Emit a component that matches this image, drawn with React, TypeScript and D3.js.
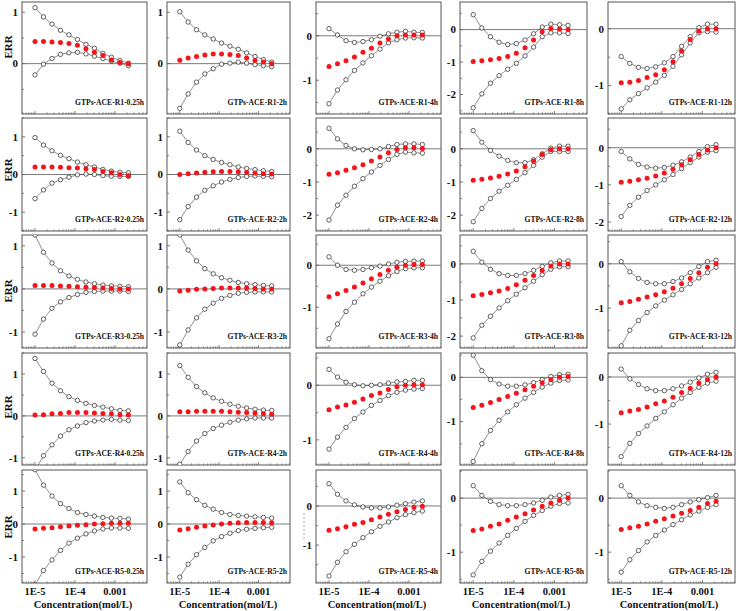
import React from 'react';
import * as d3 from 'd3';

// Concentrations (mol/L)
const conc = [1.0e-5, 1.63e-5, 2.66e-5, 4.33e-5, 7.06e-5, 1.15e-4, 1.88e-4, 3.06e-4, 4.99e-4, 8.14e-4, 1.33e-3, 2.16e-3];
const xTickVals = [1e-5, 1e-4, 1e-3];
const xTickLabels = ['1E-5', '1E-4', '0.001'];
const rowNames = ['R1', 'R2', 'R3', 'R4', 'R5'];
const timeNames = ['0.25h', '2h', '4h', '8h', '12h'];

// ---- R1 ----
const up_R1_025 = [1.09, 0.91, 0.77, 0.65, 0.56, 0.47, 0.375, 0.30, 0.20, 0.125, 0.06, 0.01];
const mid_R1_025 = [0.43, 0.43, 0.42, 0.41, 0.39, 0.36, 0.29, 0.22, 0.16, 0.07, 0.02, 0.0];
const lo_R1_025 = [-0.22, -0.01, 0.10, 0.18, 0.21, 0.22, 0.19, 0.145, 0.10, 0.05, 0.01, -0.04];
const up_R1_2 = [1.01, 0.81, 0.66, 0.56, 0.48, 0.40, 0.34, 0.28, 0.21, 0.14, 0.08, 0.03];
const mid_R1_2 = [0.065, 0.11, 0.14, 0.17, 0.19, 0.19, 0.18, 0.16, 0.11, 0.06, 0.03, 0.0];
const lo_R1_2 = [-0.87, -0.59, -0.36, -0.20, -0.10, -0.01, 0.01, 0.03, 0.01, -0.02, -0.04, -0.06];
const up_R1_4 = [0.16, 0.02, -0.11, -0.15, -0.13, -0.09, -0.01, 0.045, 0.08, 0.10, 0.08, 0.075];
const mid_R1_4 = [-0.69, -0.63, -0.56, -0.48, -0.37, -0.28, -0.16, -0.07, 0.0, 0.02, 0.02, 0.015];
const lo_R1_4 = [-1.53, -1.22, -0.99, -0.78, -0.61, -0.45, -0.30, -0.16, -0.09, -0.05, -0.045, -0.05];
const up_R1_8 = [0.46, 0.05, -0.22, -0.39, -0.46, -0.43, -0.32, -0.13, 0.08, 0.17, 0.15, 0.13];
const mid_R1_8 = [-0.98, -0.96, -0.93, -0.89, -0.83, -0.73, -0.56, -0.32, -0.07, 0.03, 0.02, 0.0];
const lo_R1_8 = [-2.41, -1.98, -1.65, -1.42, -1.22, -1.04, -0.81, -0.54, -0.22, -0.10, -0.10, -0.12];
const up_R1_12 = [-0.49, -0.61, -0.68, -0.70, -0.67, -0.60, -0.49, -0.31, -0.14, 0.02, 0.08, 0.08];
const mid_R1_12 = [-0.95, -0.94, -0.91, -0.86, -0.81, -0.72, -0.58, -0.39, -0.19, -0.04, 0.0, 0.0];
const lo_R1_12 = [-1.41, -1.25, -1.14, -1.04, -0.94, -0.82, -0.66, -0.46, -0.25, -0.07, -0.05, -0.06];

// ---- R2 ----
const up_R2_025 = [0.98, 0.78, 0.63, 0.51, 0.42, 0.33, 0.26, 0.20, 0.135, 0.09, 0.06, 0.045];
const mid_R2_025 = [0.20, 0.20, 0.20, 0.19, 0.18, 0.17, 0.15, 0.13, 0.08, 0.045, 0.0, -0.03];
const lo_R2_025 = [-0.64, -0.41, -0.23, -0.14, -0.07, -0.01, 0.01, 0.0, -0.03, -0.045, -0.05, -0.05];
const up_R2_2 = [1.15, 0.85, 0.65, 0.5, 0.4, 0.32, 0.26, 0.2, 0.16, 0.13, 0.1, 0.08];
const mid_R2_2 = [0.0, 0.02, 0.04, 0.06, 0.07, 0.08, 0.08, 0.07, 0.06, 0.04, 0.02, 0.01];
const lo_R2_2 = [-1.2, -0.85, -0.6, -0.42, -0.3, -0.2, -0.13, -0.08, -0.05, -0.04, -0.05, -0.06];
const up_R2_4 = [0.62, 0.30, 0.10, 0.0, -0.03, -0.02, 0.0, 0.07, 0.13, 0.15, 0.15, 0.13];
const mid_R2_4 = [-0.77, -0.72, -0.65, -0.57, -0.48, -0.37, -0.25, -0.12, -0.02, 0.03, 0.03, 0.01];
const lo_R2_4 = [-2.15, -1.70, -1.40, -1.13, -0.90, -0.70, -0.50, -0.32, -0.17, -0.10, -0.12, -0.13];
const up_R2_8 = [0.55, 0.2, -0.05, -0.22, -0.35, -0.42, -0.42, -0.33, -0.15, 0.02, 0.08, 0.08];
const mid_R2_8 = [-0.95, -0.92, -0.88, -0.83, -0.76, -0.67, -0.54, -0.37, -0.17, -0.03, 0.0, 0.0];
const lo_R2_8 = [-2.2, -1.8, -1.5, -1.28, -1.1, -0.92, -0.72, -0.5, -0.25, -0.08, -0.08, -0.08];
const up_R2_12 = [-0.1, -0.3, -0.45, -0.52, -0.55, -0.53, -0.47, -0.38, -0.25, -0.1, 0.03, 0.08];
const mid_R2_12 = [-0.93, -0.9, -0.86, -0.82, -0.76, -0.68, -0.58, -0.46, -0.32, -0.18, -0.06, 0.0];
const lo_R2_12 = [-1.85, -1.55, -1.33, -1.15, -1.0, -0.86, -0.72, -0.56, -0.4, -0.25, -0.12, -0.08];

// ---- R3 ----
const up_R3_025 = [1.25, 0.85, 0.6, 0.42, 0.3, 0.22, 0.16, 0.12, 0.09, 0.07, 0.06, 0.05];
const mid_R3_025 = [0.08, 0.08, 0.08, 0.07, 0.06, 0.05, 0.04, 0.03, 0.02, 0.01, 0.0, 0.0];
const lo_R3_025 = [-1.05, -0.7, -0.45, -0.3, -0.2, -0.13, -0.08, -0.06, -0.05, -0.05, -0.05, -0.06];
const up_R3_2 = [1.25, 0.9, 0.65, 0.47, 0.35, 0.26, 0.2, 0.15, 0.12, 0.1, 0.08, 0.07];
const mid_R3_2 = [-0.05, -0.03, -0.01, 0.0, 0.01, 0.02, 0.02, 0.02, 0.02, 0.01, 0.0, 0.0];
const lo_R3_2 = [-1.3, -0.95, -0.67, -0.47, -0.33, -0.22, -0.15, -0.1, -0.08, -0.07, -0.07, -0.07];
const up_R3_4 = [0.2, 0.0, -0.1, -0.12, -0.1, -0.06, -0.02, 0.03, 0.07, 0.09, 0.1, 0.1];
const mid_R3_4 = [-0.75, -0.68, -0.6, -0.52, -0.42, -0.32, -0.22, -0.12, -0.05, 0.0, 0.02, 0.02];
const lo_R3_4 = [-1.75, -1.4, -1.1, -0.88, -0.68, -0.52, -0.38, -0.25, -0.15, -0.08, -0.06, -0.06];
const up_R3_8 = [0.35, 0.05, -0.15, -0.27, -0.32, -0.32, -0.27, -0.18, -0.07, 0.03, 0.08, 0.08];
const mid_R3_8 = [-0.88, -0.85, -0.8, -0.75, -0.68, -0.58, -0.45, -0.32, -0.18, -0.06, 0.0, 0.0];
const lo_R3_8 = [-2.05, -1.7, -1.45, -1.22, -1.02, -0.84, -0.66, -0.48, -0.3, -0.15, -0.08, -0.08];
const up_R3_12 = [0.05, -0.18, -0.33, -0.42, -0.45, -0.45, -0.4, -0.32, -0.2, -0.06, 0.05, 0.08];
const mid_R3_12 = [-0.88, -0.85, -0.8, -0.75, -0.7, -0.63, -0.55, -0.45, -0.33, -0.2, -0.08, 0.0];
const lo_R3_12 = [-1.85, -1.5, -1.28, -1.1, -0.95, -0.82, -0.7, -0.58, -0.45, -0.32, -0.2, -0.08];

// ---- R4 ----
const up_R4_025 = [1.37, 1.06, 0.78, 0.60, 0.46, 0.37, 0.30, 0.25, 0.21, 0.17, 0.13, 0.12];
const mid_R4_025 = [0.02, 0.03, 0.05, 0.06, 0.08, 0.08, 0.08, 0.07, 0.06, 0.05, 0.03, 0.02];
const lo_R4_025 = [-1.3, -0.95, -0.69, -0.48, -0.33, -0.24, -0.16, -0.12, -0.10, -0.08, -0.10, -0.11];
const up_R4_2 = [1.2, 0.92, 0.7, 0.55, 0.43, 0.35, 0.28, 0.23, 0.19, 0.16, 0.14, 0.13];
const mid_R4_2 = [0.1, 0.1, 0.11, 0.11, 0.11, 0.11, 0.1, 0.09, 0.08, 0.07, 0.05, 0.04];
const lo_R4_2 = [-1.15, -0.85, -0.6, -0.42, -0.3, -0.22, -0.15, -0.1, -0.07, -0.05, -0.05, -0.05];
const up_R4_4 = [0.29, 0.15, 0.055, 0.01, -0.01, 0.0, 0.01, 0.04, 0.06, 0.07, 0.09, 0.09];
const mid_R4_4 = [-0.45, -0.40, -0.36, -0.31, -0.25, -0.19, -0.14, -0.08, -0.03, 0.0, 0.01, 0.01];
const lo_R4_4 = [-1.17, -0.95, -0.77, -0.61, -0.49, -0.37, -0.28, -0.19, -0.13, -0.09, -0.07, -0.06];
const up_R4_8 = [0.5, 0.15, -0.05, -0.15, -0.2, -0.2, -0.17, -0.12, -0.05, 0.02, 0.06, 0.07];
const mid_R4_8 = [-0.68, -0.63, -0.57, -0.5, -0.43, -0.36, -0.28, -0.2, -0.12, -0.05, 0.0, 0.02];
const lo_R4_8 = [-1.9, -1.5, -1.2, -0.97, -0.78, -0.62, -0.47, -0.34, -0.22, -0.13, -0.07, -0.06];
const up_R4_12 = [0.17, -0.04, -0.16, -0.25, -0.29, -0.29, -0.25, -0.19, -0.11, -0.02, 0.06, 0.10];
const mid_R4_12 = [-0.76, -0.72, -0.69, -0.64, -0.57, -0.51, -0.43, -0.33, -0.24, -0.13, -0.06, 0.0];
const lo_R4_12 = [-1.69, -1.41, -1.20, -1.04, -0.88, -0.74, -0.59, -0.45, -0.33, -0.22, -0.13, -0.09];

// ---- R5 ----
const up_R5_025 = [1.65, 1.18, 0.85, 0.62, 0.47, 0.35, 0.29, 0.24, 0.20, 0.18, 0.17, 0.15];
const mid_R5_025 = [-0.15, -0.13, -0.11, -0.08, -0.06, -0.04, -0.02, 0.0, 0.01, 0.02, 0.02, 0.02];
const lo_R5_025 = [-1.85, -1.41, -1.09, -0.80, -0.58, -0.43, -0.30, -0.21, -0.15, -0.12, -0.12, -0.13];
const up_R5_2 = [1.28, 0.95, 0.74, 0.57, 0.45, 0.35, 0.29, 0.26, 0.24, 0.22, 0.20, 0.18];
const mid_R5_2 = [-0.18, -0.14, -0.10, -0.06, -0.03, 0.0, 0.02, 0.04, 0.05, 0.05, 0.05, 0.04];
const lo_R5_2 = [-1.61, -1.22, -0.93, -0.71, -0.51, -0.38, -0.28, -0.20, -0.16, -0.13, -0.11, -0.10];
const up_R5_4 = [0.57, 0.30, 0.13, 0.03, -0.025, -0.05, -0.05, -0.025, 0.02, 0.06, 0.10, 0.13];
const mid_R5_4 = [-0.62, -0.58, -0.53, -0.47, -0.42, -0.35, -0.28, -0.21, -0.15, -0.09, -0.04, -0.01];
const lo_R5_4 = [-1.79, -1.44, -1.17, -0.98, -0.81, -0.66, -0.52, -0.41, -0.30, -0.22, -0.17, -0.13];
const up_R5_8 = [0.23, 0.05, -0.06, -0.12, -0.14, -0.14, -0.12, -0.09, -0.04, 0.02, 0.05, 0.07];
const mid_R5_8 = [-0.60, -0.57, -0.52, -0.48, -0.41, -0.35, -0.29, -0.22, -0.15, -0.09, -0.04, 0.0];
const lo_R5_8 = [-1.42, -1.17, -0.98, -0.83, -0.69, -0.56, -0.43, -0.32, -0.23, -0.15, -0.10, -0.09];
const up_R5_12 = [0.23, 0.05, -0.07, -0.14, -0.17, -0.19, -0.17, -0.12, -0.07, -0.03, 0.01, 0.05];
const mid_R5_12 = [-0.58, -0.55, -0.52, -0.48, -0.43, -0.38, -0.33, -0.28, -0.23, -0.17, -0.10, -0.06];
const lo_R5_12 = [-1.37, -1.14, -0.97, -0.81, -0.69, -0.59, -0.49, -0.40, -0.31, -0.24, -0.17, -0.12];

// y-axis ranges per panel [row][col] as [min, max]
const yRanges = [
  [[-0.98, 1.2], [-0.98, 1.2], [-1.76, 0.76], [-2.6, 0.85], [-1.5, 0.47]],
  [[-1.5, 1.5], [-1.5, 1.5], [-2.48, 0.93], [-2.48, 0.93], [-2.24, 0.8]],
  [[-1.37, 1.25], [-1.37, 1.25], [-1.97, 0.72], [-2.33, 0.8], [-1.9, 0.65]],
  [[-1.17, 1.5], [-1.17, 1.5], [-1.46, 0.59], [-1.98, 0.55], [-1.87, 0.51]],
  [[-1.79, 1.64], [-1.79, 1.64], [-1.97, 0.92], [-1.57, 0.52], [-1.57, 0.52]],
];

const seriesGrid = [
  [[up_R1_025, mid_R1_025, lo_R1_025], [up_R1_2, mid_R1_2, lo_R1_2], [up_R1_4, mid_R1_4, lo_R1_4], [up_R1_8, mid_R1_8, lo_R1_8], [up_R1_12, mid_R1_12, lo_R1_12]],
  [[up_R2_025, mid_R2_025, lo_R2_025], [up_R2_2, mid_R2_2, lo_R2_2], [up_R2_4, mid_R2_4, lo_R2_4], [up_R2_8, mid_R2_8, lo_R2_8], [up_R2_12, mid_R2_12, lo_R2_12]],
  [[up_R3_025, mid_R3_025, lo_R3_025], [up_R3_2, mid_R3_2, lo_R3_2], [up_R3_4, mid_R3_4, lo_R3_4], [up_R3_8, mid_R3_8, lo_R3_8], [up_R3_12, mid_R3_12, lo_R3_12]],
  [[up_R4_025, mid_R4_025, lo_R4_025], [up_R4_2, mid_R4_2, lo_R4_2], [up_R4_4, mid_R4_4, lo_R4_4], [up_R4_8, mid_R4_8, lo_R4_8], [up_R4_12, mid_R4_12, lo_R4_12]],
  [[up_R5_025, mid_R5_025, lo_R5_025], [up_R5_2, mid_R5_2, lo_R5_2], [up_R5_4, mid_R5_4, lo_R5_4], [up_R5_8, mid_R5_8, lo_R5_8], [up_R5_12, mid_R5_12, lo_R5_12]],
];

// layout
const colLeft = [22, 167, 316, 460, 608];
const colWidth = [125, 123, 125, 127, 127];
const rowTop = [2, 118, 235, 353, 470];
const rowHeight = [112, 113, 113, 112, 113];
const errY = [47, 170, 291, 407, 527];
const FONT = '"Liberation Serif", "Times New Roman", serif';

function Panel({ r, c }: { r: number; c: number }) {
  const x0 = colLeft[c], w = colWidth[c], y0 = rowTop[r], h = rowHeight[r];
  const x = d3.scaleLog().domain([Math.pow(10, -5.325), Math.pow(10, -2.2)]).range([x0, x0 + w]);
  const [ymin, ymax] = yRanges[r][c];
  const y = d3.scaleLinear().domain([ymin, ymax]).range([y0 + h, y0]);
  const [up, mid, lo] = seriesGrid[r][c];
  const line = d3.line<number>().x((_, i) => x(conc[i])).y((d) => y(d));
  const clipId = `clip-${r}-${c}`;
  const majors = d3.range(Math.ceil(ymin), Math.floor(ymax) + 1);
  const minors = d3.range(Math.ceil(ymin * 2), Math.floor(ymax * 2) + 1).map((v) => v / 2).filter((v) => !Number.isInteger(v));
  const xMinor: number[] = [];
  for (let e = -6; e <= -3; e++) for (let m = 1; m <= 9; m++) {
    const v = m * Math.pow(10, e);
    if (v >= x.domain()[0] && v <= x.domain()[1]) xMinor.push(v);
  }
  const label = `GTPs-ACE-${rowNames[r]}-${timeNames[c]}`;
  return (
    <g>
      <defs>
        <clipPath id={clipId}><rect x={x0} y={y0} width={w} height={h} /></clipPath>
      </defs>
      <rect x={x0} y={y0} width={w} height={h} fill="#fff" stroke="#555" strokeWidth={1} />
      <line x1={x0} x2={x0 + w} y1={y(0)} y2={y(0)} stroke="#7a7a7a" strokeWidth={1} />
      {majors.map((v) => (
        <g key={'M' + v}>
          <line x1={x0} x2={x0 + 3} y1={y(v)} y2={y(v)} stroke="#555" strokeWidth={0.8} />
          <text x={x0 - 4} y={y(v) + 3.8} textAnchor="end" fontFamily={FONT} fontWeight="bold" fontSize={11} fill="#111">{v < 0 ? '-' + Math.abs(v) : v}</text>
        </g>
      ))}
      {minors.map((v) => (
        <line key={'m' + v} x1={x0} x2={x0 + 2} y1={y(v)} y2={y(v)} stroke="#555" strokeWidth={0.7} />
      ))}
      {xMinor.map((v, i) => {
        const major = Math.abs(Math.log10(v) - Math.round(Math.log10(v))) < 1e-6;
        return <line key={'x' + i} x1={x(v)} x2={x(v)} y1={y0 + h} y2={y0 + h - (major ? 3 : 1.6)} stroke="#555" strokeWidth={0.7} />;
      })}
      <g clipPath={`url(#${clipId})`}>
        <path d={line(up) || ''} fill="none" stroke="#444" strokeWidth={0.6} />
        <path d={line(lo) || ''} fill="none" stroke="#444" strokeWidth={0.6} />
        {up.map((v, i) => <circle key={'u' + i} cx={x(conc[i])} cy={y(v)} r={2.2} fill="#fff" stroke="#222" strokeWidth={0.7} />)}
        {lo.map((v, i) => <circle key={'l' + i} cx={x(conc[i])} cy={y(v)} r={2.2} fill="#fff" stroke="#222" strokeWidth={0.7} />)}
        {mid.map((v, i) => <circle key={'d' + i} cx={x(conc[i])} cy={y(v)} r={2.5} fill="#f5141a" />)}
      </g>
      <text x={x0 + w - 3} y={y0 + h - 9} textAnchor="end" fontFamily={FONT} fontWeight="bold" fontSize={7.6} fill="#111">{label}</text>
      {r === 4 && (
        <g>
          {xTickVals.map((v, i) => (
            <text key={'xt' + i} x={x(v)} y={595} textAnchor="middle" fontFamily={FONT} fontWeight="bold" fontSize={10.5} fill="#111">{xTickLabels[i]}</text>
          ))}
          <text x={x0 + 61} y={608} textAnchor="middle" fontFamily={FONT} fontWeight="bold" fontSize={10.5} fill="#111">Concentration(mol/L)</text>
        </g>
      )}
    </g>
  );
}

export default function App() {
  const cells: JSX.Element[] = [];
  for (let r = 0; r < 5; r++) for (let c = 0; c < 5; c++) cells.push(<Panel key={`${r}-${c}`} r={r} c={c} />);
  return (
    <svg width={738} height={611} style={{ position: 'absolute', left: 0, top: 0, background: '#fff' }}>
      <rect x={0} y={0} width={738} height={611} fill="#fff" />
      {cells}
      {errY.map((yy, i) => (
        <text key={'err' + i} transform={`translate(11.5,${yy}) rotate(-90)`} textAnchor="middle" fontFamily={FONT} fontWeight="bold" fontSize={11} fill="#111">ERR</text>
      ))}
      <line x1={304} x2={304} y1={513} y2={541} stroke="#999" strokeWidth={0.8} strokeDasharray="2,2" />
    </svg>
  );
}
